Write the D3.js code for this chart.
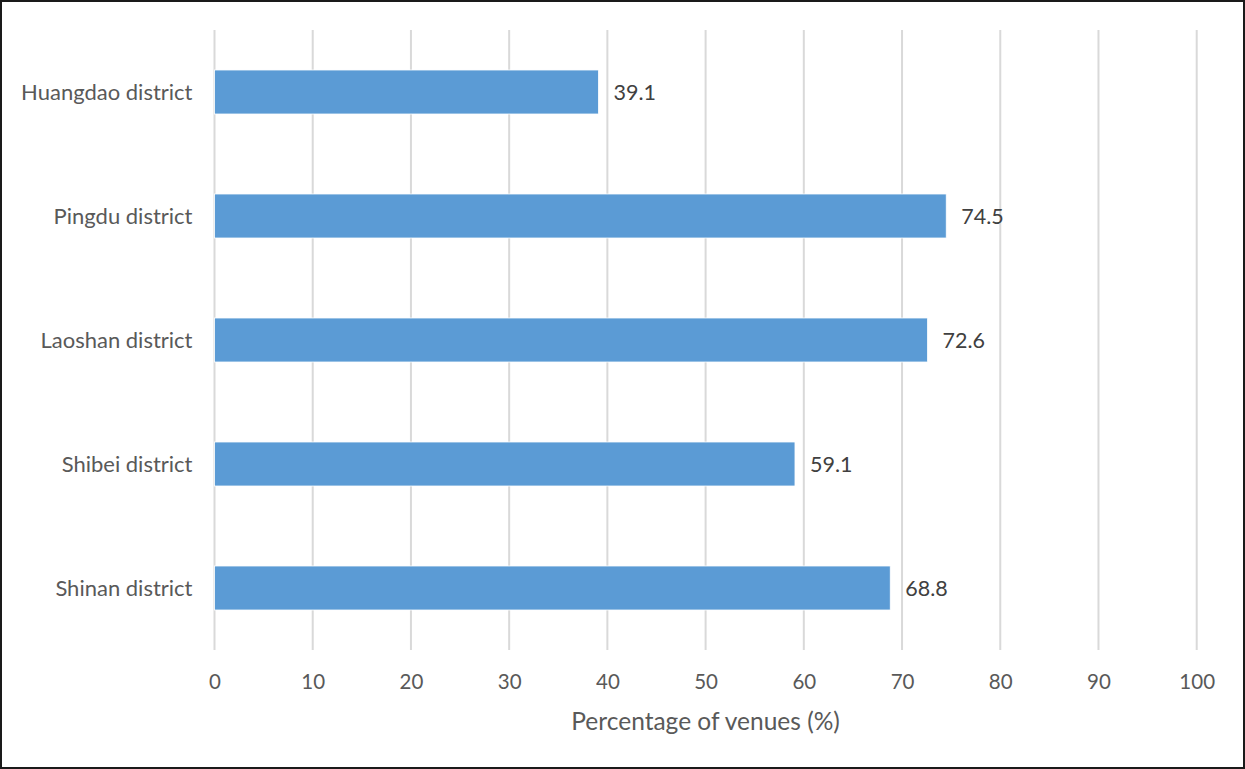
<!DOCTYPE html>
<html><head><meta charset="utf-8">
<script src="https://cdn.jsdelivr.net/npm/d3@7"></script>
<style>body{margin:0;background:#fff}svg{display:block}</style>
</head><body>
<svg id="c" width="1245" height="769"></svg>
<script>
const categories = ["Huangdao district","Pingdu district","Laoshan district","Shibei district","Shinan district"];
const values = [39.1, 74.5, 72.6, 59.1, 68.8];
const ticks = [0,10,20,30,40,50,60,70,80,90,100];
const xTitle = "Percentage of venues (%)";

(function(){
const svg = d3.select("#c");
const W = 1245, H = 769;
const mLeft = 214.5, mRight = 1196.7, mTop = 30, mBottom = 650;
const font = "Lato, 'Open Sans', sans-serif";

svg.append("rect").attr("x",1).attr("y",1).attr("width",W-2).attr("height",H-2)
  .attr("fill","#fff").attr("stroke","#1a1a1a").attr("stroke-width",2);

const x = d3.scaleLinear().domain([0,100]).range([mLeft,mRight]);
const y = d3.scaleBand().domain(categories).range([mTop,mBottom]).paddingInner(0.645).paddingOuter(0.3225);

svg.append("g").selectAll("line").data(ticks).join("line")
  .attr("x1",d=>x(d)).attr("x2",d=>x(d)).attr("y1",mTop).attr("y2",mBottom)
  .attr("stroke","#d9d9d9").attr("stroke-width",2);

svg.append("g").selectAll("rect").data(values).join("rect")
  .attr("x",x(0)).attr("y",(d,i)=>y(categories[i]))
  .attr("width",d=>x(d)-x(0)).attr("height",y.bandwidth())
  .attr("fill","#5b9bd5").attr("stroke","#ffffff").attr("stroke-width",0.8);

svg.append("g").selectAll("text").data(values).join("text")
  .attr("x",d=>x(d)+15).attr("y",(d,i)=>y(categories[i])+y.bandwidth()/2)
  .attr("dy","0.35em").attr("fill","#404040").attr("font-family",font).attr("font-size",21.5)
  .text(d=>d.toFixed(1));

const xAxis = d3.axisBottom(x).tickValues(ticks).tickSize(0).tickPadding(0);
const gx = svg.append("g").attr("transform",`translate(0,${mBottom})`).call(xAxis);
gx.select(".domain").remove();
gx.selectAll("text").attr("y",32).attr("dy","0.35em").attr("fill","#595959")
  .attr("font-family",font).attr("font-size",20.5);

const yAxis = d3.axisLeft(y).tickSize(0).tickPadding(0);
const gy = svg.append("g").attr("transform",`translate(${mLeft},0)`).call(yAxis);
gy.select(".domain").remove();
gy.selectAll("text").attr("x",-22).attr("dy","0.35em").attr("fill","#595959")
  .attr("font-family",font).attr("font-size",22);

svg.append("text").attr("x",(mLeft+mRight)/2).attr("y",721).attr("dy","0.35em")
  .attr("text-anchor","middle").attr("fill","#595959").attr("font-family",font).attr("font-size",24.5)
  .text(xTitle);
})();
</script>
</body></html>
